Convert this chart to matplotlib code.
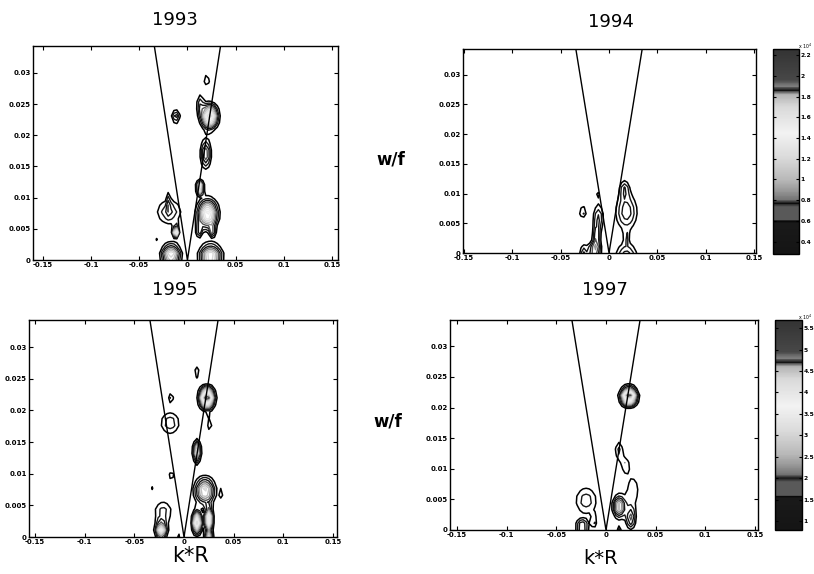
import numpy as np
import matplotlib
matplotlib.use("Agg")
import matplotlib.pyplot as plt
from matplotlib.colors import LinearSegmentedColormap, Normalize
from matplotlib.cm import ScalarMappable

# ---------------- data ----------------
titles = ["1993", "1994", "1995", "1997"]
x_ticks = [-0.15, -0.1, -0.05, 0, 0.05, 0.1, 0.15]
x_tick_labels = ["-0.15", "-0.1", "-0.05", "0", "0.05", "0.1", "0.15"]
y_ticks = [0, 0.005, 0.01, 0.015, 0.02, 0.025, 0.03]
y_tick_labels = ["0", "0.005", "0.01", "0.015", "0.02", "0.025", "0.03"]

# colour range of each panel (x 10^4)
crange_1993 = (0.28, 2.26)
crange_1994 = (0.28, 2.26)
crange_1995 = (0.28, 2.26)
crange_1997 = (0.79, 5.69)
cbar_ticks_1994 = [0.4, 0.6, 0.8, 1, 1.2, 1.4, 1.6, 1.8, 2, 2.2]
cbar_labels_1994 = ["0.4", "0.6", "0.8", "1", "1.2", "1.4", "1.6", "1.8", "2", "2.2"]
cbar_ticks_1997 = [1, 1.5, 2, 2.5, 3, 3.5, 4, 4.5, 5, 5.5]
cbar_labels_1997 = ["1", "1.5", "2", "2.5", "3", "3.5", "4", "4.5", "5", "5.5"]

# dispersion-line slope (w/f per k*R)
line_slope = 1.0

# spectral peaks: (k*R, w/f, peak, half-width k, half-width w)
peaks_1993 = [
    (0.020, 0.0289, 0.5, 0.0028, 0.0008),
    (-0.012, 0.0230, 0.7, 0.0045, 0.0011),
    (0.023, 0.0230, 1.8, 0.0110, 0.0024),
    (0.013, 0.0250, 0.5, 0.0030, 0.0014),
    (0.019, 0.0170, 0.9, 0.0060, 0.0024),
    (0.013, 0.0116, 2.2, 0.0045, 0.0011),
    (0.021, 0.0074, 1.6, 0.0130, 0.0028),
    (0.026, 0.0047, 0.9, 0.0030, 0.0008),
    (0.012, 0.0047, 0.7, 0.0030, 0.0010),
    (-0.019, 0.0077, 0.6, 0.0120, 0.0018),
    (-0.012, 0.0046, 2.0, 0.0040, 0.0010),
    (-0.031, 0.0034, 0.4, 0.0012, 0.0004),
    (-0.017, 0.0008, 1.4, 0.0120, 0.0020),
    (0.024, 0.0006, 1.4, 0.0140, 0.0022),
    (-0.019, 0.0095, 0.5, 0.0012, 0.0015),
]
peaks_1994 = [
    (-0.027, 0.0069, 0.5, 0.0035, 0.0009),
    (-0.012, 0.0097, 0.45, 0.0015, 0.0005),
    (-0.011, 0.0060, 0.6, 0.0050, 0.0020),
    (-0.013, 0.0025, 0.7, 0.0040, 0.0020),
    (-0.016, 0.0004, 0.8, 0.0080, 0.0012),
    (-0.027, 0.0003, 0.6, 0.0030, 0.0008),
    (0.018, 0.0069, 0.7, 0.0110, 0.0030),
    (0.016, 0.0108, 0.5, 0.0040, 0.0012),
    (0.018, 0.0026, 0.5, 0.0025, 0.0007),
    (0.018, 0.0003, 0.7, 0.0110, 0.0010),
]
peaks_1995 = [
    (0.013, 0.0260, 0.5, 0.0025, 0.0008),
    (0.023, 0.0220, 2.2, 0.0100, 0.0022),
    (-0.013, 0.0220, 0.5, 0.0022, 0.0008),
    (-0.014, 0.0180, 0.55, 0.0090, 0.0016),
    (0.026, 0.0178, 0.45, 0.0020, 0.0010),
    (0.013, 0.0135, 1.4, 0.0045, 0.0020),
    (-0.025, 0.0095, 0.4, 0.0010, 0.0004),
    (-0.0126, 0.0095, 0.5, 0.0025, 0.0007),
    (-0.032, 0.0080, 0.4, 0.0012, 0.0004),
    (0.021, 0.0073, 1.3, 0.0120, 0.0024),
    (0.038, 0.0069, 0.45, 0.0015, 0.0007),
    (-0.021, 0.0040, 0.5, 0.0080, 0.0015),
    (-0.023, 0.0010, 1.5, 0.0070, 0.0016),
    (-0.006, 0.0004, 0.4, 0.0020, 0.0006),
    (0.013, 0.0023, 1.8, 0.0060, 0.0022),
    (0.025, 0.0028, 1.8, 0.0050, 0.0022),
    (0.025, 0.0003, 1.5, 0.0050, 0.0008),
]
peaks_1997 = [
    (0.016, 0.0258, 1.0, 0.0030, 0.0003),
    (0.023, 0.0218, 5.4, 0.0110, 0.0019),
    (0.013, 0.0130, 1.3, 0.0035, 0.0013),
    (0.0196, 0.0106, 1.1, 0.0030, 0.0009),
    (0.027, 0.0065, 1.1, 0.0050, 0.0018),
    (-0.020, 0.0048, 1.4, 0.0100, 0.0020),
    (-0.024, 0.0005, 2.5, 0.0070, 0.0010),
    (-0.012, 0.0013, 1.2, 0.0020, 0.0008),
    (0.013, 0.0038, 3.0, 0.0070, 0.0020),
    (0.025, 0.0019, 2.0, 0.0050, 0.0018),
    (0.0135, 0.0000, 1.5, 0.0020, 0.0005),
]

# ---------------- styling / layout ----------------
W, H = 814, 574
fig = plt.figure(figsize=(W / 100, H / 100), dpi=100)

def px_axes(x0, y0, x1, y1):
    return fig.add_axes([x0 / W, 1 - y1 / H, (x1 - x0) / W, (y1 - y0) / H])

cmap = LinearSegmentedColormap.from_list("bands", [
    (0.00, (0.08,) * 3), (0.15, (0.10,) * 3), (0.158, (0.03,) * 3),
    (0.166, (0.35,) * 3), (0.23, (0.35,) * 3), (0.247, (0.05,) * 3),
    (0.263, (0.45,) * 3), (0.31, (0.60,) * 3), (0.36, (0.72,) * 3),
    (0.475, (0.86,) * 3), (0.59, (0.95,) * 3), (0.72, (0.85,) * 3),
    (0.78, (0.70,) * 3), (0.80, (0.08,) * 3), (0.82, (0.50,) * 3),
    (0.85, (0.28,) * 3), (1.00, (0.20,) * 3)])

panels = [
    dict(title=titles[0], peaks=peaks_1993, crange=crange_1993,
         box=(33, 46, 338, 260), xlim=(-0.160, 0.156), tpos=(175, 20)),
    dict(title=titles[1], peaks=peaks_1994, crange=crange_1994,
         box=(463, 49, 756, 253), xlim=(-0.151, 0.152), tpos=(611, 22),
         cbox=(773, 49, 799, 254), cticks=cbar_ticks_1994,
         clabels=cbar_labels_1994),
    dict(title=titles[2], peaks=peaks_1995, crange=crange_1995,
         box=(29, 320, 337, 537), xlim=(-0.156, 0.154), tpos=(175, 290)),
    dict(title=titles[3], peaks=peaks_1997, crange=crange_1997,
         box=(450, 320, 758, 530), xlim=(-0.157, 0.153), tpos=(605, 290),
         cbox=(775, 320, 802, 530), cticks=cbar_ticks_1997,
         clabels=cbar_labels_1997),
]

kk = np.arange(-0.17, 0.17, 0.003)
ww = np.arange(0.0, 0.036, 0.0011)
K, Wg = np.meshgrid(kk, ww)

for p in panels:
    ax = px_axes(*p["box"])
    vmin, vmax = p["crange"]
    Z = np.zeros_like(K)
    for (k0, w0, a, hk, hw) in p["peaks"]:
        f = np.sqrt(2 * np.log(a / vmin))
        sk, sw = hk / f, hw / f
        Z += a * np.exp(-0.5 * ((K - k0) / sk) ** 2 - 0.5 * ((Wg - w0) / sw) ** 2)
    levels = np.linspace(vmin, vmax, 14)
    ax.contour(K, Wg, Z, levels=levels[:1], colors="black", linewidths=1.1)
    ax.contour(K, Wg, Z, levels=levels[1:], cmap=cmap,
               norm=Normalize(vmin, vmax), linewidths=1.0)
    ytop = 0.0343
    wl = np.array([ytop, 0.0, ytop])
    ax.plot(np.array([-1, 0, 1]) * wl / line_slope, wl, color="black", lw=1.0)
    ax.set_xlim(*p["xlim"])
    ax.set_ylim(0, ytop)
    ax.set_xticks(x_ticks)
    ax.set_xticklabels(x_tick_labels)
    ax.set_yticks(y_ticks)
    ax.set_yticklabels(y_tick_labels)
    ax.tick_params(direction="in", length=3, width=0.8, labelsize=5,
                   top=True, right=True, pad=1.5)
    for lab in ax.get_xticklabels() + ax.get_yticklabels():
        lab.set_fontweight("bold")
    for s in ax.spines.values():
        s.set_linewidth(1.0)
    fig.text(p["tpos"][0] / W, 1 - p["tpos"][1] / H, p["title"],
             ha="center", va="center", fontsize=13)
    if "cbox" in p:
        cax = px_axes(*p["cbox"])
        sm = ScalarMappable(norm=Normalize(vmin, vmax), cmap=cmap)
        cb = fig.colorbar(sm, cax=cax, ticks=p["cticks"])
        cb.ax.set_yticklabels(p["clabels"])
        cb.ax.tick_params(direction="in", length=2.5, width=0.8, labelsize=4.3,
                          left=True, right=True, pad=1.0)
        for lab in cb.ax.get_yticklabels():
            lab.set_fontweight("bold")
        cb.outline.set_linewidth(1.0)
        cy0 = p["cbox"][1]
        fig.text(812 / W, 1 - (cy0 - 3) / H, r"x 10$^{4}$",
                 ha="right", va="center", fontsize=3.3)

fig.text(391 / W, 1 - 159 / H, "w/f", ha="center", va="center",
         fontsize=12, fontweight="bold")
fig.text(388 / W, 1 - 422 / H, "w/f", ha="center", va="center",
         fontsize=12, fontweight="bold")
fig.text(190 / W, 1 - 556 / H, "k*R", ha="center", va="center", fontsize=15)
fig.text(601 / W, 1 - 558 / H, "k*R", ha="center", va="center", fontsize=14)

fig.savefig("out.png", dpi=100)
